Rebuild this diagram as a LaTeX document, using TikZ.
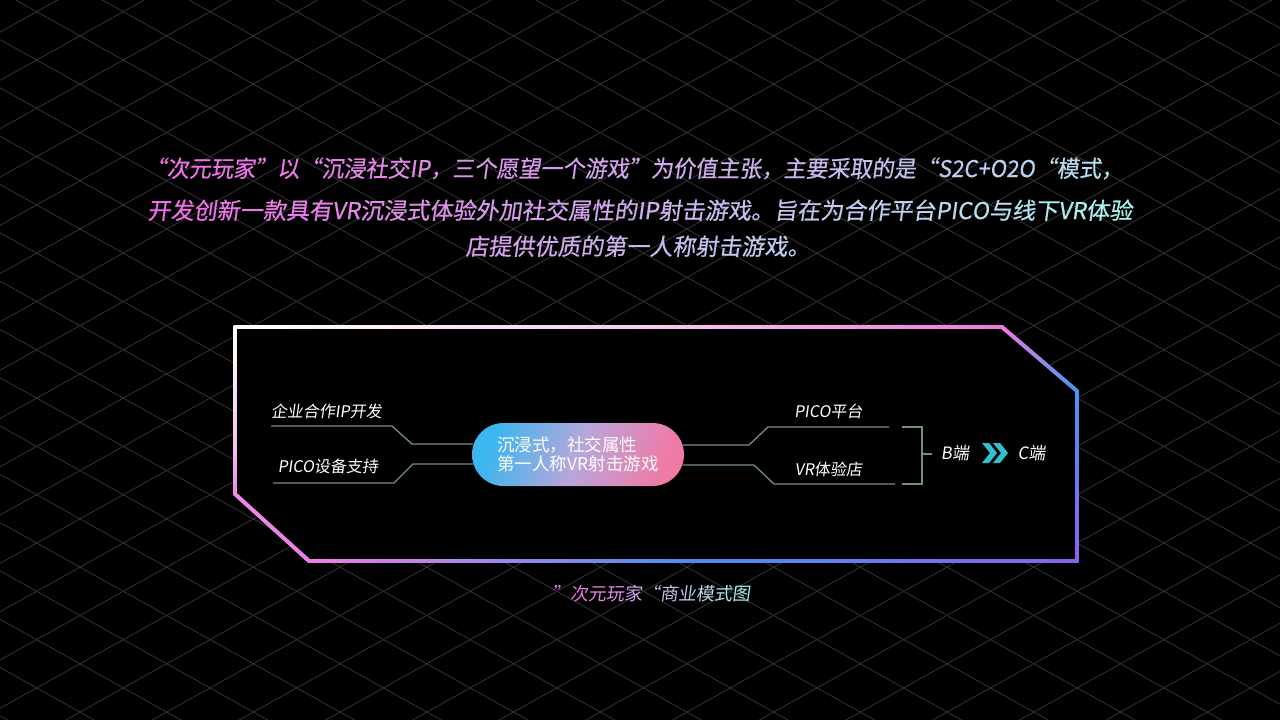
\documentclass[tikz,border=0pt]{standalone}
\usepackage{fontspec}
\setmainfont{Noto Sans CJK SC}
\newfontfamily\slfont[FakeSlant=0.14]{Noto Sans CJK SC}
\newfontfamily\tifont[FakeSlant=0.14,FakeBold=0.6]{Noto Sans CJK SC}
\usetikzlibrary{calc}
\definecolor{gpink}{HTML}{F26CE8}
\definecolor{gcyan}{HTML}{A8F4F0}
\definecolor{gridc}{HTML}{353535}
\definecolor{connc}{HTML}{748C8C}
\definecolor{chevc}{HTML}{33BFD0}
\definecolor{fpink}{HTML}{F07ADC}
\definecolor{fpale}{HTML}{F6D0F0}
\definecolor{fblue}{HTML}{4A96F2}
\definecolor{fpurple}{HTML}{8A62EE}
\definecolor{fblue2}{HTML}{4A8EF2}
\definecolor{fpinkb}{HTML}{EC7EE4}
\definecolor{fpinkl}{HTML}{EE88E8}
\definecolor{fpinkp}{HTML}{F5C8F0}
\definecolor{pillA}{HTML}{3BB6EE}
\definecolor{pillM}{HTML}{B8A6DA}
\definecolor{pillB}{HTML}{F07AA6}
% gradient text
\newcount\gtN \newcount\gtI
\def\gtend{\gtend}
\def\gtcount#1{\ifx#1\gtend\else\advance\gtN by 1 \expandafter\gtcount\fi}
\def\gtdo#1{\ifx#1\gtend\else
  \edef\gtp{\the\numexpr(\gtA*(\gtN-1-\gtI)+\gtB*\gtI)/(\gtN-1)\relax}%
  {\color{gcyan!\gtp!gpink}#1}\advance\gtI by 1 \expandafter\gtdo\fi}
\newcommand\gradtext[3]{\def\gtA{#1}\def\gtB{#2}\gtN=0 \gtI=0 \gtcount#3\gtend\gtdo#3\gtend}
% gradient frame segment
\newcommand\gseg[6]{%
  \foreach \k in {0,...,23}{%
    \pgfmathtruncatemacro\pc{\k*100/23}%
    \draw[framestroke, color={#6!\pc!#5}] ($(#1,#2)!{\k/24}!(#3,#4)$) -- ($(#1,#2)!{(\k+1)/24}!(#3,#4)$);
  }}
\begin{document}
\begin{tikzpicture}[x=1pt,y=-1pt,
  gridline/.style={draw=gridc, line width=0.8pt},
  framestroke/.style={line width=4pt, line cap=round},
  conn/.style={draw=connc, line width=1.3pt},
  lbl/.style={text=white, font=\slfont\fontsize{16}{18}\selectfont, inner sep=0pt, anchor=base},
  endlbl/.style={text=white, font=\slfont\fontsize{17}{19}\selectfont, inner sep=0pt, anchor=base},
  titletxt/.style={font=\tifont\fontsize{23}{26}\selectfont, inner sep=0pt, anchor=base},
  captxt/.style={font=\slfont\fontsize{18}{20}\selectfont, inner sep=0pt, anchor=base},
  chev/.style={fill=chevc}
]
\useasboundingbox (0,0) rectangle (1280,720);
\fill[black] (0,0) rectangle (1280,720);
% background isometric grid
\begin{scope}
\clip (0,0) rectangle (1280,720);
\foreach \n in {-16,...,16} \draw[gridline] (0,{-8.7+48.3*\n}) -- (1280,{-8.7+48.3*\n+713});
\foreach \n in {-2,...,31} \draw[gridline] (0,{32.1+48.3*\n}) -- (1280,{32.1+48.3*\n-713});
\end{scope}
% title
\node[titletxt] (t1) at (634,177) {\scalebox{0.96}[1]{\gradtext{0}{85}{“次元玩家”以“沉浸社交IP，三个愿望一个游戏”为价值主张，主要采取的是“S2C+O2O“模式，}}};
\node[titletxt] (t2) at (640,219) {\scalebox{1.004}[1]{\gradtext{0}{100}{开发创新一款具有VR沉浸式体验外加社交属性的IP射击游戏。旨在为合作平台PICO与线下VR体验}}};
\node[titletxt] (t3) at (638,255) {\scalebox{1.0}[1]{\gradtext{35}{75}{店提供优质的第一人称射击游戏。}}};
% frame
\fill[black] (235,327) -- (1002,327) -- (1077,391) -- (1077,561) -- (309,561) -- (235,494) -- cycle;
\gseg{235}{327}{620}{327}{white}{fpale}
\gseg{620}{327}{1002}{327}{fpale}{fpink}
\gseg{1002}{327}{1077}{391}{fpink}{fblue}
\gseg{1077}{391}{1077}{561}{fblue}{fpurple}
\gseg{1077}{561}{700}{561}{fpurple}{fblue2}
\gseg{700}{561}{309}{561}{fblue2}{fpinkb}
\gseg{309}{561}{235}{494}{fpinkb}{fpinkl}
\gseg{235}{494}{235}{440}{fpinkl}{fpinkp}
\gseg{235}{440}{235}{327}{fpinkp}{white}
% central pill
\node[rounded corners=31.5pt, minimum width=212pt, minimum height=63pt, inner sep=0pt,
  left color=pillA, right color=pillB, middle color=pillM, shading angle=70,
  text=white, align=left, font=\fontsize{17.5}{19.5}\selectfont] (pill) at (578,454.5)
  {沉浸式，社交属性\\第一人称VR射击游戏};
% left labels
\node[lbl] (l1) at (326.5,417) {企业合作IP开发};
\node[lbl] (l2) at (328,472) {PICO设备支持};
\coordinate (l1s) at (271,426);
\coordinate (l2s) at (273,483);
\draw[conn] (l1s) -- (392,426) -- (412,444) -- ($(pill.west)+(1.6,-10.5)$);
\draw[conn] (l2s) -- (394,483) -- (413,464) -- ($(pill.west)+(1.6,9.5)$);
% right labels
\node[lbl] (r1) at (828.5,417) {PICO平台};
\node[lbl] (r2) at (828.5,475) {VR体验店};
\coordinate (r1e) at (889,427);
\coordinate (r2e) at (895,484);
\draw[conn] ($(pill.east)+(-1.6,-9.5)$) -- (749,445) -- (768,427) -- (r1e);
\draw[conn] ($(pill.east)+(-1.6,10.5)$) -- (754,465) -- (774,484) -- (r2e);
% bracket
\coordinate (bt) at (902,427);
\coordinate (bb) at (902,484);
\coordinate (bm) at (922,454);
\node[endlbl] (bnode) at (955,459) {B端};
\node[endlbl] (cnode) at (1031.5,459) {C端};
\draw[conn] (bt) -- (922,427) -- (922,484) -- (bb);
\draw[conn] (bm) -- (932,454);
% chevrons
\fill[chev] (982,443) -- (989,443) -- (997,453) -- (989,463) -- (982,463) -- (990,453) -- cycle;
\fill[chev] (993,443) -- (1000,443) -- (1008,453) -- (1000,463) -- (993,463) -- (1001,453) -- cycle;
% caption
\node[captxt] (cap) at (651.5,600) {\gradtext{0}{100}{”次元玩家“商业模式图}};
\end{tikzpicture}
\end{document}
